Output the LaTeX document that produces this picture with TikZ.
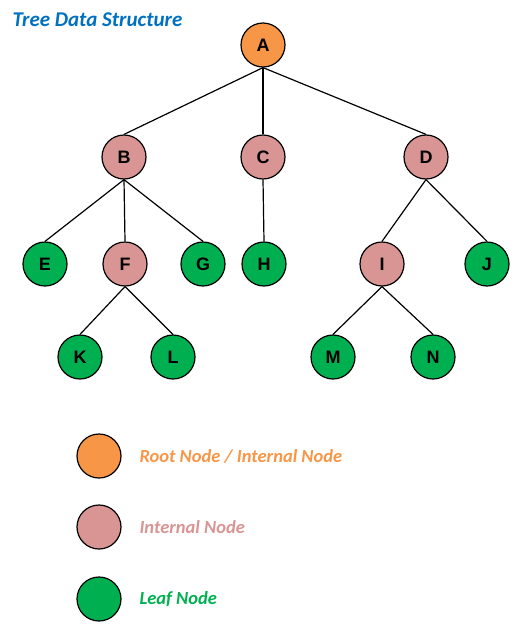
\documentclass[tikz,border=0pt]{standalone}
\usepackage{fontspec}
\setmainfont{Carlito}
\newfontfamily\lettersfont{Liberation Sans}
\definecolor{rootc}{HTML}{F79646}
\definecolor{intc}{HTML}{D99594}
\definecolor{leafc}{HTML}{00B050}
\definecolor{titlec}{HTML}{0070C0}
\begin{document}
\begin{tikzpicture}[x=1pt,y=-1pt,
  tnode/.style={circle,draw=black,line width=1.2pt,minimum size=44pt,inner sep=0pt,font=\lettersfont\bfseries\fontsize{18}{18}\selectfont},
  rootn/.style={tnode,fill=rootc},
  intn/.style={tnode,fill=intc},
  leafn/.style={tnode,fill=leafc},
  edge/.style={line width=1.2pt,draw=black},
  legtext/.style={anchor=west,font=\bfseries\itshape\fontsize{18.5}{18.5}\selectfont}]
\useasboundingbox (0,0) rectangle (532,640);
\node[anchor=west,text=titlec,font=\bfseries\itshape\fontsize{21}{21}\selectfont] (title) at (9,20) {Tree Data Structure};
\node[rootn] (A) at (263,45) {A};
\node[intn] (B) at (124,157) {B};
\node[intn] (C) at (263,157) {C};
\node[intn] (D) at (426,157) {D};
\node[leafn] (E) at (45,264) {E};
\node[intn] (F) at (125,264) {F};
\node[leafn] (G) at (203,264) {G};
\node[leafn] (H) at (264,264) {H};
\node[intn] (I) at (382,264) {I};
\node[leafn] (J) at (487,264) {J};
\node[leafn] (K) at (80,357) {K};
\node[leafn] (L) at (173,357) {L};
\node[leafn] (M) at (333,357) {M};
\node[leafn] (N) at (433,357) {N};
\foreach \p/\c in {A/B,A/C,A/D,B/E,B/F,B/G,C/H,D/I,D/J,F/K,F/L,I/M,I/N}
  \draw[edge] (\p.south) -- (\c.north);
\node[rootn] (l1) at (99,456) {};
\node[intn] (l2) at (99,527) {};
\node[leafn] (l3) at (99,599) {};
\node[legtext,text=rootc] (t1) at (136,456) {Root Node / Internal Node};
\node[legtext,text=intc] (t2) at (136,527) {Internal Node};
\node[legtext,text=leafc] (t3) at (136,599) {Leaf Node};
\end{tikzpicture}
\end{document}
